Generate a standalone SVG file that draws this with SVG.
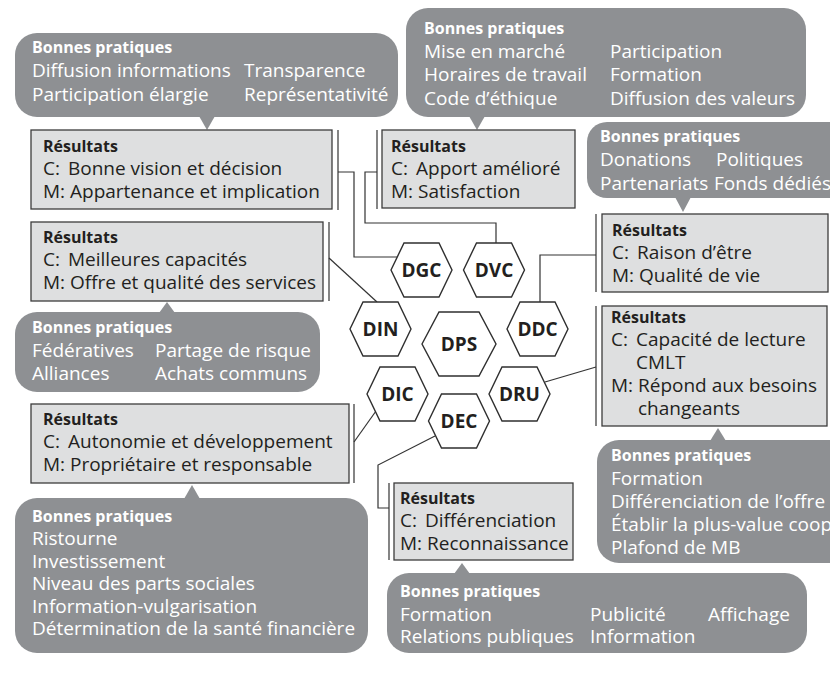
<svg xmlns="http://www.w3.org/2000/svg" width="830" height="688" viewBox="0 0 830 688">
  <style>
    text { font-family: "Open Sans", "Noto Sans", "Liberation Sans", sans-serif; font-size: 19px; }
    .bubble { fill: #8e9093; }
    .bubble text { fill: #ffffff; }
    .box rect { fill: #dedfe0; stroke: #3c3c3c; stroke-width: 1.3; }
    .box text { fill: #231f20; }
    .hd { font-weight: 700; font-size: 16px; }
    .hex polygon { fill: #ffffff; stroke: #2f2f2f; stroke-width: 1.4; }
    .hex text { font-weight: 700; font-size: 19px; fill: #231f20; text-anchor: middle; }
    .conn { fill: none; stroke: #333333; stroke-width: 1.2; }
  </style>

  <!-- connectors and side bars -->
  <g id="connectors" class="conn">
    <line x1="338" y1="130" x2="338" y2="210"/>
    <line x1="377" y1="130" x2="377" y2="209"/>
    <line x1="596" y1="214" x2="596" y2="292"/>
    <line x1="596" y1="306" x2="596" y2="426"/>
    <line x1="329" y1="222" x2="329" y2="301"/>
    <line x1="354" y1="404" x2="354" y2="483"/>
    <line x1="389" y1="483" x2="389" y2="560"/>
    <polyline points="338,172 354,172 354,257 397,257"/>
    <polyline points="377,172 365,172 365,223 496,223 496,243"/>
    <polyline points="596,255 540,255 540,302"/>
    <line x1="545" y1="382" x2="596" y2="367"/>
    <line x1="329" y1="258" x2="377" y2="302"/>
    <line x1="354" y1="442" x2="376" y2="411"/>
    <polyline points="389,508 378,508 378,465 435,436"/>
  </g>

  <!-- practice bubbles -->
  <g id="bp-gouvernance" class="bubble">
    <rect x="15" y="33" width="383" height="84" rx="22"/>
    <polygon points="199,116 215,116 207,130"/>
    <text x="32" y="53" class="hd">Bonnes pratiques</text>
    <text x="32" y="77">Diffusion informations</text>
    <text x="244" y="77">Transparence</text>
    <text x="32" y="101">Participation élargie</text>
    <text x="244" y="101">Représentativité</text>
  </g>
  <g id="bp-vie-coop" class="bubble">
    <rect x="406" y="8" width="400" height="109" rx="22"/>
    <polygon points="469,116 485,116 477,130"/>
    <text x="424" y="34" class="hd">Bonnes pratiques</text>
    <text x="424" y="57.5">Mise en marché</text>
    <text x="610" y="57.5">Participation</text>
    <text x="424" y="81">Horaires de travail</text>
    <text x="610" y="81">Formation</text>
    <text x="424" y="104.5">Code d’éthique</text>
    <text x="610" y="104.5">Diffusion des valeurs</text>
  </g>
  <g id="bp-communautaire" class="bubble">
    <rect x="587" y="122" width="270" height="76" rx="20"/>
    <polygon points="675,197 691,197 683,212"/>
    <text x="600" y="142" class="hd">Bonnes pratiques</text>
    <text x="600" y="166">Donations</text>
    <text x="716" y="166">Politiques</text>
    <text x="600" y="190">Partenariats</text>
    <text x="714" y="190">Fonds dédiés</text>
  </g>
  <g id="bp-usagers" class="bubble">
    <rect x="597" y="440" width="260" height="123" rx="22"/>
    <polygon points="710,441 726,441 718,428"/>
    <text x="611" y="461" class="hd">Bonnes pratiques</text>
    <text x="611" y="485">Formation</text>
    <text x="611" y="508">Différenciation de l’offre</text>
    <text x="611" y="531">Établir la plus-value coop</text>
    <text x="611" y="554">Plafond de MB</text>
  </g>
  <g id="bp-intercoop" class="bubble">
    <rect x="15" y="312" width="305" height="80" rx="22"/>
    <polygon points="159,313 175,313 167,302"/>
    <text x="32" y="333" class="hd">Bonnes pratiques</text>
    <text x="32" y="357">Fédératives</text>
    <text x="155" y="357">Partage de risque</text>
    <text x="32" y="380">Alliances</text>
    <text x="155" y="380">Achats communs</text>
  </g>
  <g id="bp-capital" class="bubble">
    <rect x="15" y="498" width="353" height="155" rx="22"/>
    <polygon points="184,499 200,499 192,485"/>
    <text x="32" y="522" class="hd">Bonnes pratiques</text>
    <text x="32" y="545">Ristourne</text>
    <text x="32" y="568">Investissement</text>
    <text x="32" y="590">Niveau des parts sociales</text>
    <text x="32" y="613">Information-vulgarisation</text>
    <text x="32" y="635">Détermination de la santé financière</text>
  </g>
  <g id="bp-education" class="bubble">
    <rect x="387" y="573" width="420" height="80" rx="22"/>
    <polygon points="454,574 470,574 462,563"/>
    <text x="400" y="597" class="hd">Bonnes pratiques</text>
    <text x="400" y="621">Formation</text>
    <text x="590" y="621">Publicité</text>
    <text x="708" y="621">Affichage</text>
    <text x="400" y="643">Relations publiques</text>
    <text x="590" y="643">Information</text>
  </g>

  <!-- result boxes -->
  <g id="res-dgc" class="box">
    <rect x="31" y="130" width="301" height="79"/>
    <text x="43" y="152" class="hd">Résultats</text>
    <text x="43" y="175">C:</text><text x="68" y="175">Bonne vision et décision</text>
    <text x="43" y="198">M:</text><text x="70" y="198">Appartenance et implication</text>
  </g>
  <g id="res-dvc" class="box">
    <rect x="382" y="130" width="193" height="78"/>
    <text x="391" y="152" class="hd">Résultats</text>
    <text x="391" y="175">C:</text><text x="416" y="175">Apport amélioré</text>
    <text x="391" y="198">M:</text><text x="418" y="198">Satisfaction</text>
  </g>
  <g id="res-ddc" class="box">
    <rect x="602" y="214" width="226" height="78"/>
    <text x="612" y="236" class="hd">Résultats</text>
    <text x="612" y="259">C:</text><text x="637" y="259">Raison d’être</text>
    <text x="612" y="282">M:</text><text x="639" y="282">Qualité de vie</text>
  </g>
  <g id="res-dru" class="box">
    <rect x="602" y="306" width="225" height="120"/>
    <text x="611" y="323" class="hd">Résultats</text>
    <text x="611" y="346">C:</text><text x="636" y="346">Capacité de lecture</text>
    <text x="636" y="369">CMLT</text>
    <text x="611" y="392">M:</text><text x="638" y="392">Répond aux besoins</text>
    <text x="638" y="415">changeants</text>
  </g>
  <g id="res-din" class="box">
    <rect x="31" y="222" width="292" height="79"/>
    <text x="43" y="243" class="hd">Résultats</text>
    <text x="43" y="266">C:</text><text x="68" y="266">Meilleures capacités</text>
    <text x="43" y="289">M:</text><text x="70" y="289">Offre et qualité des services</text>
  </g>
  <g id="res-dic" class="box">
    <rect x="31" y="404" width="318" height="79"/>
    <text x="43" y="425" class="hd">Résultats</text>
    <text x="43" y="448">C:</text><text x="68" y="448">Autonomie et développement</text>
    <text x="43" y="471">M:</text><text x="70" y="471">Propriétaire et responsable</text>
  </g>
  <g id="res-dec" class="box">
    <rect x="394" y="483" width="179" height="77"/>
    <text x="400" y="504" class="hd">Résultats</text>
    <text x="400" y="527">C:</text><text x="425" y="527">Différenciation</text>
    <text x="400" y="550">M:</text><text x="427" y="550">Reconnaissance</text>
  </g>

  <!-- hexagon nodes -->
  <g id="hex-dgc" class="hex">
    <polygon points="391,270 404,243 439,243 452,270 439,297 404,297"/>
    <text x="421.5" y="277">DGC</text>
  </g>
  <g id="hex-dvc" class="hex">
    <polygon points="463.5,270 476.5,243 511.5,243 524.5,270 511.5,297 476.5,297"/>
    <text x="494" y="277">DVC</text>
  </g>
  <g id="hex-din" class="hex">
    <polygon points="350,329 363,302 398,302 411,329 398,356 363,356"/>
    <text x="380.5" y="336">DIN</text>
  </g>
  <g id="hex-dps" class="hex">
    <polygon points="422,344 439,312 479,312 496,344 479,376 439,376"/>
    <text x="459" y="351">DPS</text>
  </g>
  <g id="hex-ddc" class="hex">
    <polygon points="507,329 520,302 555,302 568,329 555,356 520,356"/>
    <text x="537.5" y="336">DDC</text>
  </g>
  <g id="hex-dic" class="hex">
    <polygon points="367,394 380,367 415,367 428,394 415,421 380,421"/>
    <text x="397.5" y="401">DIC</text>
  </g>
  <g id="hex-dru" class="hex">
    <polygon points="489,394 502,367 537,367 550,394 537,421 502,421"/>
    <text x="519.5" y="401">DRU</text>
  </g>
  <g id="hex-dec" class="hex">
    <polygon points="428.5,421 441.5,394 476.5,394 489.5,421 476.5,448 441.5,448"/>
    <text x="459" y="428">DEC</text>
  </g>
</svg>
